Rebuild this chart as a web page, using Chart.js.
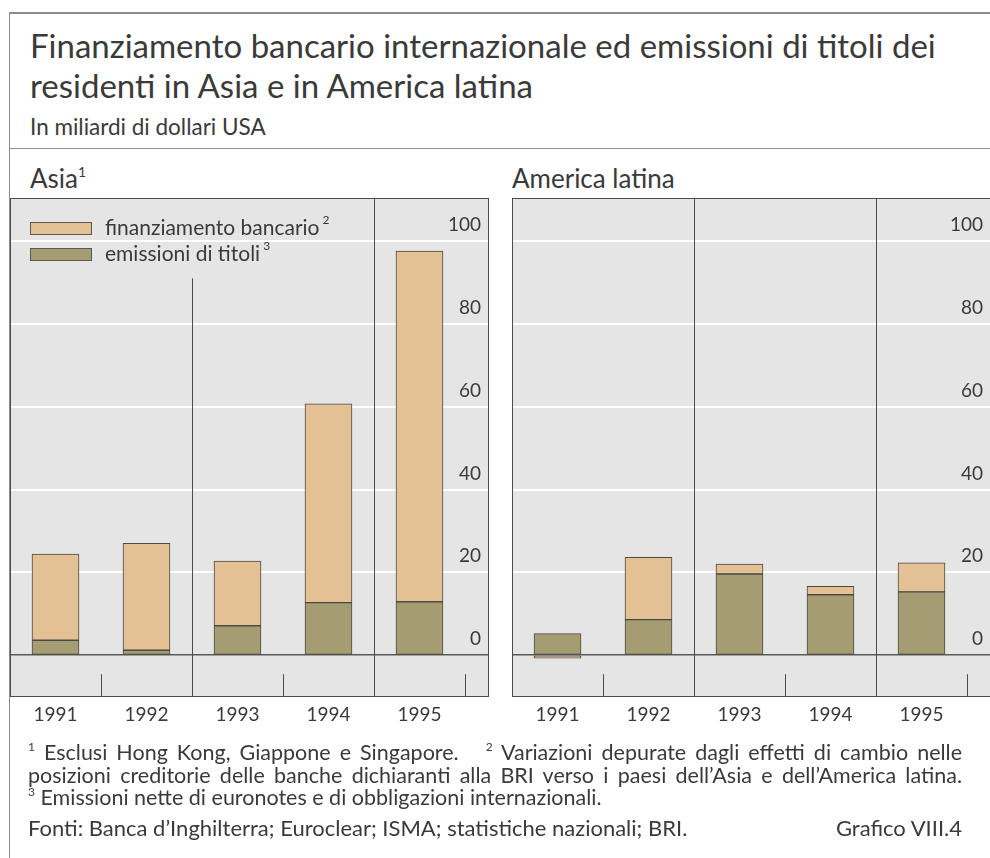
<!DOCTYPE html>
<html lang="it">
<head>
<meta charset="utf-8">
<title>Finanziamento bancario internazionale ed emissioni di titoli</title>
<script src="https://cdn.jsdelivr.net/npm/chart.js@4.4.1/dist/chart.umd.min.js"></script>
<style>
  html, body { margin: 0; padding: 0; background: #fff; overflow: hidden; }
  body { width: 990px; height: 858px; position: relative; font-family: Lato, "Open Sans", sans-serif; color: #3a3a3a; }
  .rule { position: absolute; background: #8c8c8c; }
  .txt { position: absolute; white-space: nowrap; }
  #title { left: 30px; top: 25px; font-size: 33px; line-height: 40px; }
  #subtitle { left: 30px; top: 114px; font-size: 22.5px; line-height: 26px; }
  .panel-title { top: 162px; font-size: 26px; line-height: 32px; }
  .panel-title sup { font-size: 14px; vertical-align: 11px; line-height: 0; }
  canvas { position: absolute; }
  #notes { position: absolute; left: 28px; top: 741px; width: 934px; font-size: 21.5px; line-height: 22.5px; }
  #notes div { white-space: nowrap; }
  #notes .just { text-align: justify; text-align-last: justify; white-space: normal; }
  #notes sup { font-size: 12px; vertical-align: 9px; line-height: 0; }
  #sources { position: absolute; left: 28px; top: 816px; width: 934px; font-size: 22px; line-height: 24px; display: flex; justify-content: space-between; }
</style>
</head>
<body>
<div class="rule" style="left:9px;top:12px;width:981px;height:1.5px"></div>
<div class="rule" style="left:9px;top:12px;width:1px;height:846px"></div>
<div class="rule" style="left:9px;top:148px;width:981px;height:1px"></div>

<div id="title" class="txt">Finanziamento bancario internazionale ed emissioni di titoli dei<br>residenti in Asia e in America latina</div>
<div id="subtitle" class="txt">In miliardi di dollari USA</div>
<div class="txt panel-title" style="left:30px">Asia<sup>1</sup></div>
<div class="txt panel-title" style="left:512px">America latina</div>

<canvas id="asia" width="500" height="590" style="left:0;top:150px"></canvas>
<canvas id="amer" width="491" height="590" style="left:500px;top:150px"></canvas>

<div id="notes">
  <div class="just"><sup>1</sup> Esclusi Hong Kong, Giappone e Singapore.&nbsp;&nbsp; <sup>2</sup> Variazioni depurate dagli effetti di cambio nelle</div>
  <div class="just">posizioni creditorie delle banche dichiaranti alla BRI verso i paesi dell’Asia e dell’America latina.</div>
  <div><sup>3</sup> Emissioni nette di euronotes e di obbligazioni internazionali.</div>
</div>
<div id="sources"><span>Fonti: Banca d’Inghilterra; Euroclear; ISMA; statistiche nazionali; BRI.</span><span>Grafico VIII.4</span></div>

<script>
// Years on the category axis
const years = ['1991', '1992', '1993', '1994', '1995'];
// Value-axis tick labels (miliardi di dollari USA)
const yTicks = [0, 20, 40, 60, 80, 100];

// Asia: net bank lending and net securities issues
const asiaBank = [20.8, 25.8, 15.6, 48.0, 84.7];
const asiaSecurities = [3.6, 1.2, 7.1, 12.7, 12.9];

// America latina
const latamBank = [-0.7, 15.0, 2.4, 2.0, 7.0];
const latamSecurities = [5.2, 8.6, 19.6, 14.6, 15.3];

const TAN = '#e4c195';
const OLIVE = '#a59c72';
const EDGE = '#4a4a42';
const PANEL_BG = '#e5e5e5';
const FRAME = '#4d4d4d';
const TEXT = '#3a3a3a';
const FONT = 'Lato, "Open Sans", sans-serif';

// Panel background, column separators and frame
const panelDecor = {
  id: 'panelDecor',
  beforeDraw(chart) {
    const { ctx, chartArea: a } = chart;
    ctx.save();
    ctx.fillStyle = PANEL_BG;
    ctx.fillRect(a.left, a.top, a.right - a.left, a.bottom - a.top);
    ctx.restore();
  },
  afterDatasetsDraw(chart, args, opts) {
    const { ctx, chartArea: a, scales: { x, y } } = chart;
    ctx.save();
    ctx.strokeStyle = FRAME;
    ctx.lineWidth = 1;
    // long separators between year pairs
    opts.dividers.forEach(d => {
      const px = Math.round(x.getPixelForValue(d.at)) + 0.5;
      const top = d.from == null ? a.top : y.getPixelForValue(d.from);
      ctx.beginPath();
      ctx.moveTo(px, top);
      ctx.lineTo(px, a.bottom);
      ctx.stroke();
    });
    // short ticks along the bottom edge
    const tickTop = y.getPixelForValue(opts.tickFrom);
    opts.ticks.forEach(v => {
      const px = Math.round(x.getPixelForValue(v)) + 0.5;
      ctx.beginPath();
      ctx.moveTo(px, tickTop);
      ctx.lineTo(px, a.bottom);
      ctx.stroke();
    });
    ctx.strokeRect(Math.round(a.left) + 0.5, Math.round(a.top) + 0.5,
                   Math.round(a.right - a.left) - 1, Math.round(a.bottom - a.top) - 1);
    ctx.restore();
  }
};

// Legend drawn inside the plot area
const innerLegend = {
  id: 'innerLegend',
  afterDraw(chart, args, opts) {
    if (!opts.show) return;
    const { ctx, chartArea: a } = chart;
    ctx.save();
    opts.order.forEach((dsIndex, row) => {
      const ds = chart.data.datasets[dsIndex];
      const top = a.top + 24 + row * 26;
      ctx.fillStyle = ds.backgroundColor;
      ctx.fillRect(a.left + 20, top, 62, 13);
      ctx.strokeStyle = '#5a5a50';
      ctx.lineWidth = 1;
      ctx.strokeRect(a.left + 20.5, top + 0.5, 61, 12);
      ctx.fillStyle = TEXT;
      ctx.textBaseline = 'middle';
      ctx.font = '21px ' + FONT;
      ctx.fillText(ds.label, a.left + 95, top + 6);
      const w = ctx.measureText(ds.label).width;
      ctx.font = '12px ' + FONT;
      ctx.fillText(ds.note, a.left + 95 + w + 3, top - 2);
    });
    ctx.restore();
  }
};

function buildChart(canvasId, bank, securities, decor, legend, padding) {
  return new Chart(document.getElementById(canvasId), {
    type: 'bar',
    data: {
      datasets: [
        {
          label: 'emissioni di titoli', note: '3',
          data: securities.map((v, i) => ({ x: i, y: v })),
          backgroundColor: OLIVE, borderColor: EDGE, borderWidth: 1,
          borderSkipped: false, barThickness: 47
        },
        {
          label: 'finanziamento bancario', note: '2',
          data: bank.map((v, i) => ({ x: i, y: v })),
          backgroundColor: TAN, borderColor: EDGE, borderWidth: 1,
          borderSkipped: false, barThickness: 47
        }
      ]
    },
    options: {
      responsive: false,
      animation: false,
      devicePixelRatio: 1,
      layout: { padding },
      plugins: {
        legend: { display: false },
        tooltip: { enabled: false },
        panelDecor: decor,
        innerLegend: legend
      },
      scales: {
        x: {
          type: 'linear',
          stacked: true,
          offset: false,
          min: -0.5,
          max: 4.764,
          afterBuildTicks: s => { s.ticks = years.map((_, i) => ({ value: i })); },
          afterFit: s => { s.height = 43; },
          grid: { display: false, drawTicks: false, offset: false },
          border: { display: false },
          ticks: {
            callback: v => years[v],
            color: TEXT,
            font: { family: FONT, size: 19 },
            padding: 6,
            maxRotation: 0
          }
        },
        y: {
          position: 'right',
          stacked: true,
          min: -10.1,
          max: 110.4,
          afterBuildTicks: s => { s.ticks = yTicks.map(v => ({ value: v })); },
          afterFit: s => { s.width = 0; },
          grid: {
            drawTicks: false,
            color: c => (c.tick && c.tick.value === 0) ? '#5a5a5a' : '#ffffff',
            lineWidth: c => (c.tick && c.tick.value === 0) ? 1.5 : 2
          },
          border: { display: false },
          ticks: {
            mirror: true,
            crossAlign: 'near',
            padding: -8,
            labelOffset: -16,
            color: TEXT,
            font: { family: FONT, size: 19 }
          }
        }
      }
    },
    plugins: [panelDecor, innerLegend]
  });
}

buildChart('asia', asiaBank, asiaSecurities,
  { dividers: [{ at: 1.5, from: 91 }, { at: 3.5 }], ticks: [0.5, 2.5, 4.5], tickFrom: -4.6 },
  { show: true, order: [1, 0] },
  { left: 10, right: 11, top: 48, bottom: 0 });

buildChart('amer', latamBank, latamSecurities,
  { dividers: [{ at: 1.5 }, { at: 3.5 }], ticks: [0.5, 2.5, 4.5], tickFrom: -4.6 },
  { show: false, order: [] },
  { left: 12, right: 0, top: 48, bottom: 0 });
</script>
</body>
</html>
